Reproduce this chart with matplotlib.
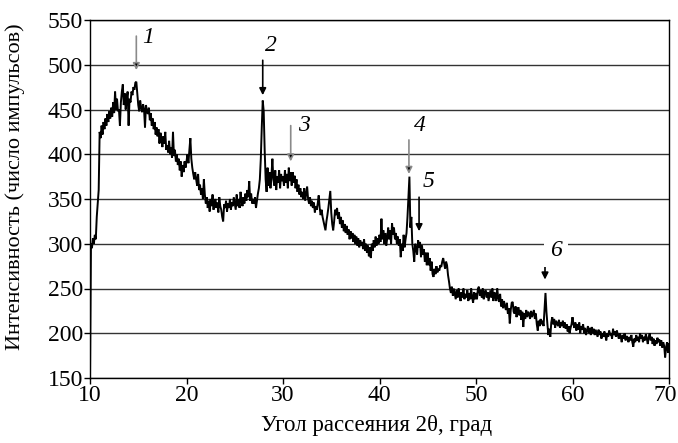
import numpy as np
import matplotlib
matplotlib.use("Agg")
import matplotlib.pyplot as plt
import matplotlib.transforms as mtransforms

# Scattering angle grid (degrees), 0.1 step from 10 to 70
angle_start = 10.0
angle_step = 0.1

# Intensity, one row per degree (x.0 ... x.9)
counts_rows = [
    [150, 300, 295, 306, 300, 310, 305, 330, 345, 360],   # 10
    [425, 418, 432, 422, 436, 428, 440, 432, 445, 436],   # 11
    [448, 440, 452, 442, 458, 446, 470, 450, 462, 448],   # 12
    [450, 432, 458, 470, 478, 455, 468, 450, 462, 470],   # 13
    [432, 462, 458, 470, 466, 475, 472, 480, 481, 468],   # 14
    [455, 448, 460, 452, 447, 456, 450, 430, 455, 448],   # 15
    [445, 452, 438, 446, 432, 440, 428, 436, 422, 430],   # 16
    [420, 428, 412, 424, 418, 408, 420, 412, 425, 405],   # 17
    [410, 402, 415, 400, 408, 396, 425, 398, 405, 392],   # 18
    [400, 388, 395, 382, 392, 375, 388, 380, 392, 385],   # 19
    [392, 400, 390, 405, 418, 395, 385, 378, 372, 380],   # 20
    [372, 365, 378, 360, 366, 355, 362, 350, 372, 355],   # 21
    [345, 352, 340, 348, 336, 350, 342, 355, 338, 346],   # 22
    [350, 340, 346, 335, 352, 342, 338, 330, 325, 344],   # 23
    [340, 348, 336, 345, 340, 350, 338, 346, 342, 352],   # 24
    [345, 338, 355, 342, 350, 340, 358, 348, 342, 352],   # 25
    [345, 356, 348, 360, 352, 370, 348, 356, 345, 350],   # 26
    [345, 352, 340, 348, 356, 362, 372, 395, 430, 460],   # 27
    [448, 405, 372, 358, 385, 365, 380, 362, 375, 395],   # 28
    [372, 365, 382, 360, 375, 368, 382, 362, 378, 370],   # 29
    [375, 365, 382, 368, 378, 362, 385, 370, 380, 365],   # 30
    [380, 368, 376, 362, 372, 358, 366, 355, 362, 352],   # 31
    [358, 350, 362, 348, 356, 364, 350, 345, 352, 342],   # 32
    [348, 340, 346, 335, 342, 338, 345, 354, 340, 332],   # 33
    [338, 330, 325, 320, 315, 325, 332, 340, 350, 359],   # 34
    [335, 322, 315, 325, 338, 332, 340, 328, 335, 322],   # 35
    [330, 318, 326, 314, 322, 312, 320, 310, 316, 305],   # 36
    [314, 306, 312, 302, 310, 300, 308, 298, 306, 296],   # 37
    [304, 298, 302, 294, 305, 292, 300, 290, 298, 286],   # 38
    [296, 284, 300, 292, 304, 296, 308, 298, 306, 300],   # 39
    [310, 302, 328, 305, 315, 300, 312, 298, 306, 318],   # 40
    [305, 315, 300, 323, 310, 318, 305, 312, 300, 308],   # 41
    [298, 305, 285, 300, 292, 310, 296, 305, 312, 330],   # 42
    [352, 375, 318, 330, 300, 292, 280, 300, 295, 288],   # 43
    [304, 296, 302, 285, 298, 288, 294, 280, 290, 276],   # 44
    [290, 276, 284, 270, 280, 266, 263, 272, 266, 275],   # 45
    [268, 272, 270, 276, 274, 280, 284, 278, 272, 280],   # 46
    [276, 265, 258, 250, 245, 252, 242, 250, 244, 238],   # 47
    [248, 240, 250, 242, 236, 246, 240, 250, 238, 244],   # 48
    [240, 248, 236, 245, 238, 250, 240, 234, 246, 238],   # 49
    [245, 238, 250, 252, 242, 248, 240, 250, 238, 246],   # 50
    [248, 240, 246, 236, 242, 248, 240, 250, 236, 246],   # 51
    [242, 236, 250, 240, 235, 244, 230, 238, 228, 236],   # 52
    [230, 226, 234, 222, 228, 211, 226, 234, 235, 224],   # 53
    [222, 230, 218, 226, 229, 220, 226, 215, 224, 207],   # 54
    [222, 216, 226, 218, 224, 222, 216, 225, 218, 222],   # 55
    [226, 216, 222, 210, 203, 214, 208, 216, 210, 214],   # 56
    [208, 226, 245, 224, 210, 198, 205, 196, 212, 218],   # 57
    [210, 216, 206, 214, 211, 208, 215, 206, 212, 208],   # 58
    [214, 206, 212, 205, 210, 202, 208, 200, 206, 210],   # 59
    [218, 210, 206, 212, 203, 210, 204, 212, 200, 208],   # 60
    [204, 210, 200, 206, 198, 203, 208, 200, 206, 198],   # 61
    [207, 200, 205, 198, 204, 200, 196, 204, 198, 202],   # 62
    [194, 200, 196, 202, 198, 192, 200, 196, 203, 198],   # 63
    [200, 194, 205, 198, 202, 196, 203, 198, 194, 200],   # 64
    [196, 190, 198, 194, 200, 192, 197, 194, 190, 196],   # 65
    [192, 198, 190, 185, 194, 190, 198, 192, 196, 190],   # 66
    [200, 194, 198, 190, 196, 192, 199, 194, 188, 196],   # 67
    [200, 192, 196, 188, 194, 186, 192, 188, 195, 190],   # 68
    [193, 186, 192, 184, 190, 186, 173, 184, 190, 178],   # 69
    [188],                                                # 70
]

# Peak markers: label, angle, arrow top, arrow tip, label x, label y, shaft colour
peak_labels = ["1", "2", "3", "4", "5", "6"]
peak_angles = [14.8, 27.9, 30.8, 43.05, 44.1, 57.15]
arrow_tops = [532, 505, 432, 416, 352, 276]
arrow_tips = [494, 466, 392, 378, 314, 260]
label_x = [16.0, 28.7, 32.2, 44.2, 45.1, 58.3]
label_y = [531, 522, 432, 432, 369, 292]
shaft_colors = ["#8a8a8a", "black", "#8a8a8a", "#8a8a8a", "black", "black"]

x_ticks = [10, 20, 30, 40, 50, 60, 70]
y_ticks = [150, 200, 250, 300, 350, 400, 450, 500, 550]

counts = np.array([v for row in counts_rows for v in row], dtype=float)
angles = angle_start + angle_step * np.arange(len(counts))

plt.rcParams['font.family'] = ['Liberation Serif', 'DejaVu Serif']

fig = plt.figure(figsize=(6.78, 4.43), dpi=100)
ax = fig.add_axes([90 / 678, 1 - 378 / 443, 579 / 678, 358 / 443])

ax.set_xlim(10, 70)
ax.set_ylim(150, 550)
ax.set_xticks(x_ticks)
ax.set_yticks(y_ticks)
ax.yaxis.grid(True, color="#333333", linewidth=1.0)
ax.set_axisbelow(True)
for s in ax.spines.values():
    s.set_color("black")
    s.set_linewidth(1.0)
ax.tick_params(direction="out", length=4, width=1, labelsize=17, colors="black", pad=1)

# keep the last x tick label inside the figure
last_lab = ax.get_xticklabels()[-1]
last_lab.set_transform(last_lab.get_transform() +
                       mtransforms.ScaledTranslation(-4 / 100, 0, fig.dpi_scale_trans))

ax.plot(angles, counts, color="black", linewidth=1.4, solid_joinstyle="miter")

for lab, xa, yt, yb, lx, ly, c in zip(peak_labels, peak_angles, arrow_tops, arrow_tips,
                                     label_x, label_y, shaft_colors):
    ax.annotate("", xy=(xa, yb), xytext=(xa, yt),
                arrowprops=dict(arrowstyle="-|>", ec=c, fc="black", lw=1.2,
                                mutation_scale=10, shrinkA=0, shrinkB=0))
    bbox = dict(facecolor="white", edgecolor="none", pad=4) if lab == "6" else None
    ax.text(lx, ly, lab, fontsize=17, style="italic", ha="center", va="center", bbox=bbox)

ax.set_ylabel("Интенсивность (число импульсов)", fontsize=16)
ax.yaxis.set_label_coords(-0.113, 0.535)
ax.set_xlabel("Угол рассеяния 2θ, град", fontsize=16.5)
ax.xaxis.set_label_coords(0.495, -0.103)

fig.savefig("out.png", dpi=100)
